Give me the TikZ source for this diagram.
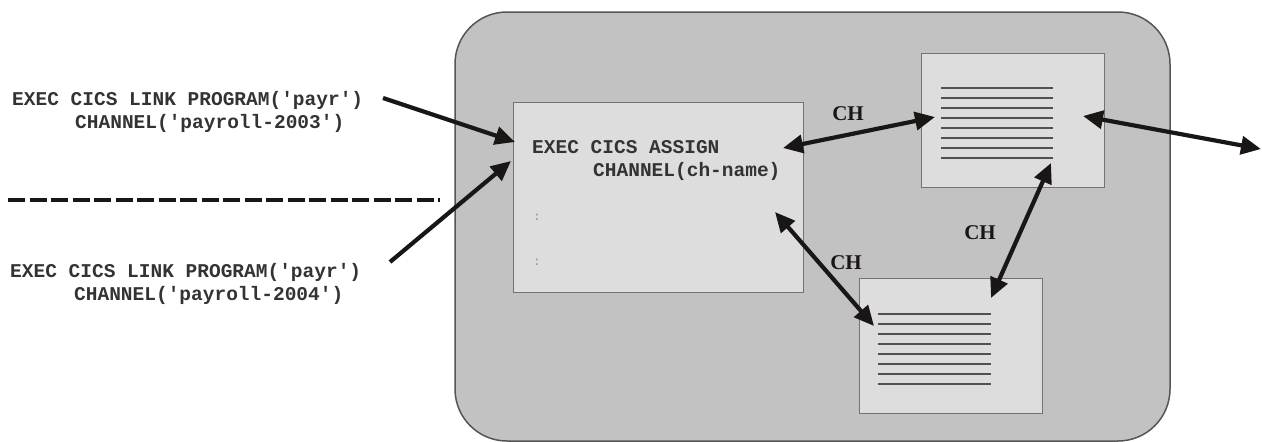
\documentclass[tikz,border=0pt]{standalone}
\usepackage{fontspec}
\setmainfont{Liberation Serif}
\newfontfamily\codefont{Liberation Mono}
\usetikzlibrary{arrows.meta}
\definecolor{outerfill}{HTML}{C2C2C2}
\definecolor{outerline}{HTML}{555555}
\definecolor{boxfill}{HTML}{DDDDDD}
\definecolor{boxline}{HTML}{737373}
\definecolor{docline}{HTML}{505050}
\definecolor{arrowcol}{HTML}{1A1616}
\tikzset{
  codetext/.style={anchor=base west, inner sep=0pt, align=left, text=black!80,
    font=\codefont\bfseries\fontsize{19.5pt}{23pt}\selectfont},
  panel/.style={draw=boxline, fill=boxfill, line width=1.2pt, anchor=north west, inner sep=0pt},
  docrule/.style={draw=docline, line width=1.6pt},
  chlabel/.style={inner sep=0pt, text=arrowcol, font=\bfseries\fontsize{21pt}{21pt}\selectfont},
  headtip/.tip={Triangle[length=20pt,width=18pt]},
  onearrow/.style={draw=arrowcol, line width=4.2pt, -headtip},
  twoarrow/.style={draw=arrowcol, line width=4.2pt, headtip-headtip},
  colon/.style={inner sep=0pt, text=black!45, font=\codefont\fontsize{12pt}{12pt}\selectfont}
}
\begin{document}
\begin{tikzpicture}[x=1pt,y=-1pt]
\useasboundingbox (0,0) rectangle (1262,442);
% outer region
\draw[rounded corners=52pt, fill=outerfill, draw=outerline, line width=1.5pt] (455,12) rectangle (1170,441);
% boxes
\node[panel, minimum width=290pt, minimum height=190pt] (main) at (513,102) {};
\node[panel, minimum width=183pt, minimum height=134pt] (doc1) at (921,53) {};
\node[panel, minimum width=183pt, minimum height=135pt] (doc2) at (859,278) {};
\foreach \i in {0,...,7} {
  \draw[docrule] (941,{88+10*\i}) -- (1053,{88+10*\i});
  \draw[docrule] (878,{314+10*\i}) -- (991,{314+10*\i});
}
% texts (base anchor = baseline of the last line)
\node[codetext] (link1) at (12,128) {EXEC CICS LINK PROGRAM('payr')\\\hspace*{63pt}CHANNEL('payroll-2003')};
\node[codetext] (link2) at (10,300) {EXEC CICS LINK PROGRAM('payr')\\\hspace*{64pt}CHANNEL('payroll-2004')};
\node[codetext] (assign) at (532,176) {EXEC CICS ASSIGN\\\hspace*{61pt}CHANNEL(ch-name)};
\node[colon] (c1) at (537,217) {:};
\node[colon] (c2) at (537,262) {:};
% dashed separator
\coordinate (dashL) at (8,200);
\coordinate (dashR) at (440,200);
\draw[draw=arrowcol, line width=3.5pt, dash pattern=on 17pt off 4.5pt] (dashL) -- (dashR);
% CH labels
\node[chlabel] (ch1) at (848,114) {CH};
\node[chlabel] (ch2) at (980,233) {CH};
\node[chlabel] (ch3) at (846,263) {CH};
% arrow end points
\coordinate (s1) at (383,98);
\coordinate (t1) at (515,142);
\coordinate (s2) at (390,262);
\coordinate (t2) at (511,161);
\coordinate (a1) at (783,148);
\coordinate (a2) at (935,117);
\coordinate (b1) at (1083,116);
\coordinate (b2) at (1261,149);
\coordinate (c1s) at (775,212);
\coordinate (c1e) at (874,326);
\coordinate (d1) at (1051,163);
\coordinate (d2) at (991,298);
% arrows
\draw[onearrow] (s1) -- (t1);
\draw[onearrow] (s2) -- (t2);
\draw[twoarrow] (a1) -- (a2);
\draw[twoarrow] (b1) -- (b2);
\draw[twoarrow] (c1s) -- (c1e);
\draw[twoarrow] (d1) -- (d2);
\end{tikzpicture}
\end{document}
